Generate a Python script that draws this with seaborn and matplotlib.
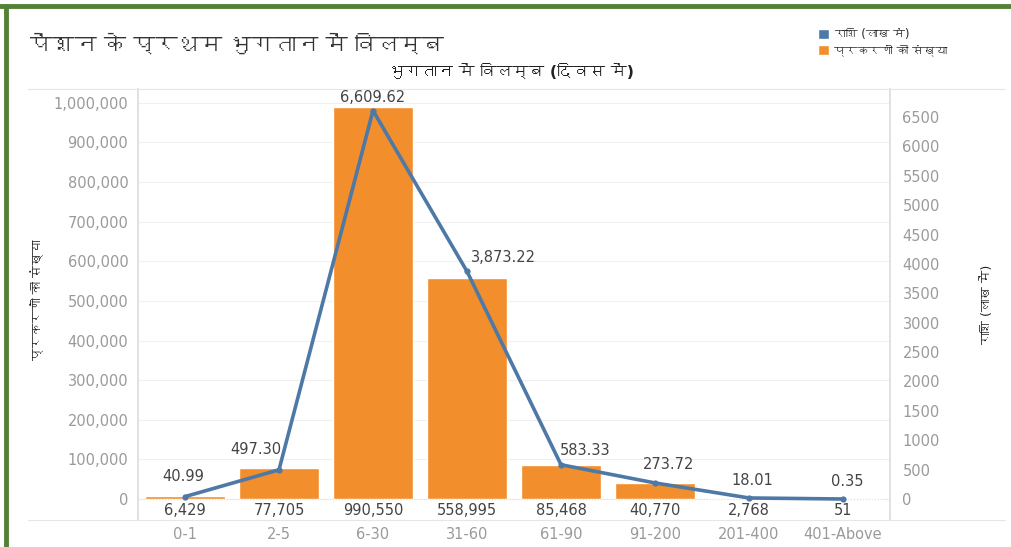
import matplotlib
matplotlib.use("Agg")
import matplotlib.pyplot as plt
import seaborn as sns
import numpy as np
import pandas as pd
from matplotlib import font_manager
from matplotlib.ft2font import FT2Font
from matplotlib.lines import Line2D
from matplotlib.patches import Patch

# chart data
categories = ["0-1", "2-5", "6-30", "31-60", "61-90", "91-200", "201-400", "401-Above"]
case_counts = [6429, 77705, 990550, 558995, 85468, 40770, 2768, 51]
amounts_lakh = [40.99, 497.30, 6609.62, 3873.22, 583.33, 273.72, 18.01, 0.35]

left_ticks = [0, 100000, 200000, 300000, 400000, 500000, 600000, 700000, 800000, 900000, 1000000]
right_ticks = [0, 500, 1000, 1500, 2000, 2500, 3000, 3500, 4000, 4500, 5000, 5500, 6000, 6500]

title = "पेंशन के प्रथम भुगतान में विलम्ब"
x_title = "भुगतान में विलम्ब (दिवस में)"
left_label = "प्रकरणों की संख्या"
right_label = "राशि (लाख में)"

BAR = "#f28e2b"
LINE = "#4e79a7"
GREEN = "#548235"
GRAY = "#9a9a9a"
DARK = "#444444"


def find_devanagari_family():
    for f in font_manager.fontManager.ttflist:
        try:
            if 0x0915 in FT2Font(f.fname).get_charmap():
                return f.name
        except Exception:
            continue
    return None


sns.set_theme(style="white")
deva = find_devanagari_family()
families = ["DejaVu Sans"] + ([deva] if deva else [])
plt.rcParams["font.family"] = families

df = pd.DataFrame({"category": categories, "cases": case_counts, "amount": amounts_lakh})

fig = plt.figure(figsize=(10.12, 5.47), dpi=100)
ax = fig.add_axes([138 / 1012, 1 - 520 / 547, 752 / 1012, 431 / 547])

sns.barplot(data=df, x="category", y="cases", color=BAR, saturation=1, width=0.86, ax=ax)
ax.set_xlim(-0.5, len(categories) - 0.5)
ax.set_ylim(-53000, 1035000)
ax.set_yticks(left_ticks)
ax.set_yticklabels([f"{t:,}" for t in left_ticks])
ax.grid(axis="y", color="#f0f0f0", linewidth=0.8)
ax.axhline(0, color="#dddddd", linewidth=0.8, linestyle=":")
ax.set_xlabel("")
ax.set_ylabel("")
ax.tick_params(axis="y", colors=GRAY, labelsize=10.5, length=0, pad=7)
ax.tick_params(axis="x", colors=GRAY, labelsize=10.5, length=0, pad=5)
ax.set_xticks(np.arange(len(categories) + 1) - 0.5, minor=True)
ax.tick_params(axis="x", which="minor", length=9, color="#e8e8e8", width=0.8)
for s in ["top", "bottom", "right"]:
    ax.spines[s].set_visible(False)
ax.spines["left"].set_color("#dddddd")

for i, v in enumerate(case_counts):
    ax.annotate(f"{v:,}", (i, 0), xytext=(0, -11), textcoords="offset pixels",
                ha="center", va="center", fontsize=10.5, color=DARK)

ax2 = ax.twinx()
x_pos = np.arange(len(categories))
sns.lineplot(x=x_pos, y=amounts_lakh, ax=ax2, color=LINE, linewidth=2.6,
             marker="o", markersize=4.5, markeredgewidth=0)
ax2.set_ylim(-357, 6976)
ax2.set_yticks(right_ticks)
ax2.tick_params(axis="y", colors=GRAY, labelsize=10.5, length=0, pad=9)
ax2.set_ylabel("")
ax2.grid(False)
for s in ["top", "bottom", "left"]:
    ax2.spines[s].set_visible(False)
ax2.spines["right"].set_color("#dddddd")

# label offsets (pixels) so the labels sit clear of the line, as in the original
offsets = [(-2, 20), (-23, 20), (0, 13), (36, 14), (24, 14), (14, 18), (3, 17), (4, 17)]
for i, v in enumerate(amounts_lakh):
    dx, dy = offsets[i]
    ax2.annotate(f"{v:,.2f}", (i, v), xytext=(dx, dy), textcoords="offset pixels",
                 ha="center", va="center", fontsize=10.5, color=DARK)

# frame lines
fig.add_artist(Line2D([28 / 1012, 1005 / 1012], [1 - 89 / 547] * 2, color="#e6e6e6", linewidth=0.8))
fig.add_artist(Line2D([28 / 1012, 1005 / 1012], [1 - 520 / 547] * 2, color="#e6e6e6", linewidth=0.8))
fig.add_artist(Line2D([0, 1], [1 - 6 / 547] * 2, color=GREEN, linewidth=3.5))
fig.add_artist(Line2D([6 / 1012] * 2, [0, 1 - 6 / 547], color=GREEN, linewidth=3.5))

fig.text(30 / 1012, 1 - 45 / 547, title, fontsize=16, color="#333333", va="center", ha="left")
fig.text(512 / 1012, 1 - 72 / 547, x_title, fontsize=11.5, fontweight="bold", color="#222222",
         va="center", ha="center")
fig.text(38 / 1012, 1 - 300 / 547, left_label, fontsize=9, color="#222222", rotation=90,
         va="center", ha="center")
fig.text(988 / 1012, 1 - 305 / 547, right_label, fontsize=9, color="#222222", rotation=90,
         va="center", ha="center")

handles = [Patch(facecolor=LINE, label=right_label),
           Patch(facecolor=BAR, label=left_label)]
fig.legend(handles=handles, loc="upper left", bbox_to_anchor=(812 / 1012, 1 - 22 / 547),
           frameon=False, fontsize=8.5, handlelength=0.9, handleheight=0.9,
           handletextpad=0.5, labelspacing=0.3, borderpad=0)

fig.savefig("out.png", dpi=100, facecolor="white")
